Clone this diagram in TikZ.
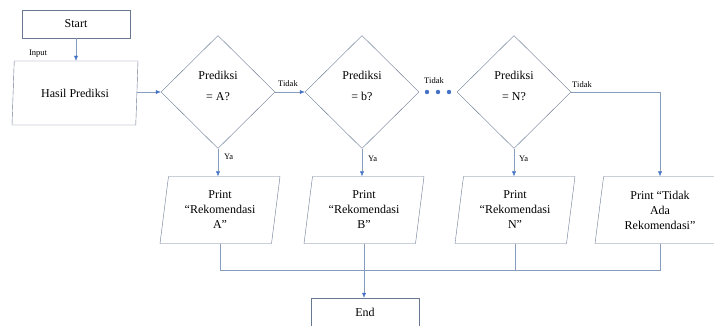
\documentclass[tikz,border=0pt]{standalone}
\usepackage{fontspec}
\setmainfont{Liberation Serif}
\usetikzlibrary{shapes.geometric,arrows.meta}
\definecolor{boxgray}{RGB}{105,120,145}
\definecolor{linegray}{RGB}{135,157,190}
\definecolor{tipblue}{RGB}{68,114,196}

\begin{document}
\begin{tikzpicture}[x=1pt,y=-1pt,
  box/.style={draw=boxgray,rectangle,minimum width=108pt,minimum height=28pt,
    font=\fontsize{12}{14}\selectfont},
  io/.style={draw=boxgray,trapezium,trapezium left angle=78,trapezium right angle=102,
    trapezium stretches body=true,minimum width=120pt,minimum height=67pt,
    align=center,inner sep=1pt,font=\fontsize{12}{15}\selectfont},
  cond/.style={draw=boxgray,diamond,minimum width=114pt,minimum height=113pt,
    inner sep=0pt,align=center,text depth=13pt,font=\fontsize{12}{21}\selectfont},
  lbl/.style={font=\fontsize{8.5}{10}\selectfont,inner sep=0pt},
  flow/.style={draw=linegray,-{Latex[length=5pt,width=4pt,color=tipblue]}},
  link/.style={draw=linegray}]
  \useasboundingbox (0,0) rectangle (714,325);

  % start and input
  \node[box] (start) at (76,24) {Start};
  \node[io,minimum width=126pt,minimum height=64pt] (hasil) at (75,93) {Hasil Prediksi};
  \node[lbl] (lblin) at (38,54) {Input};

  % decisions
  \node[cond] (dA) at (218,92) {Prediksi\\= A?};
  \node[cond] (dB) at (362,92) {Prediksi\\= b?};
  \node[cond] (dN) at (514,92) {Prediksi\\= N?};

  % outputs
  \node[io] (pA) at (220,210) {Print\\“Rekomendasi\\A”};
  \node[io] (pB) at (364,210) {Print\\“Rekomendasi\\B”};
  \node[io] (pN) at (515,210) {Print\\“Rekomendasi\\N”};
  \node[io,minimum width=130pt] (pT) at (660,210) {Print “Tidak\\Ada\\Rekomendasi”};
  \node[box] (end) at (365,312) {End};

  % labels
  \node[lbl] (tA) at (288,84) {Tidak};
  \node[lbl] (tB) at (434,81) {Tidak};
  \node[lbl] (tN) at (582,85) {Tidak};
  \node[lbl,anchor=west] (yA) at (224,157) {Ya};
  \node[lbl,anchor=west] (yB) at (368,159) {Ya};
  \node[lbl,anchor=west] (yN) at (519,159) {Ya};

  \foreach \x in {427,438,449}
    \fill[tipblue] (\x,92) circle (2.2pt);

  % connectors
  \draw[flow] (start.south) -- (start.south |- hasil.north);
  \draw[flow] (hasil.east |- dA.west) -- (dA.west);
  \draw[flow] (dA.east) -- (dB.west);
  \draw[flow] (dN.east) -| (pT.north);
  \draw[flow] (dA.south) -- (dA.south |- pA.north);
  \draw[flow] (dB.south) -- (dB.south |- pB.north);
  \draw[flow] (dN.south) -- (dN.south |- pN.north);

  \coordinate (jn) at (0,270);
  \draw[link] (pA.south) -- (pA.south |- jn) -- (pT.south |- jn) -- (pT.south);
  \draw[link] (pN.south) -- (pN.south |- jn);
  \draw[flow] (pB.south) -- (pB.south |- end.north);
\end{tikzpicture}
\end{document}
